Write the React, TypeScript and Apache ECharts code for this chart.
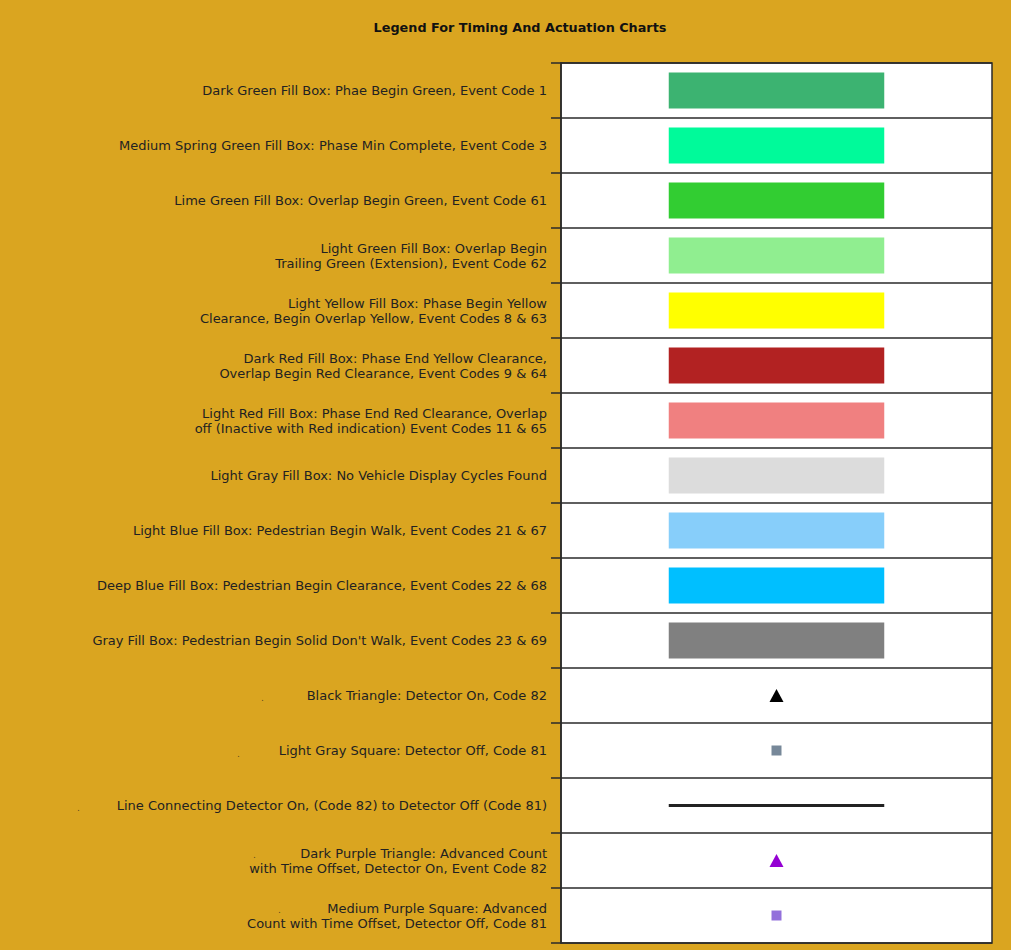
import React, { useEffect, useRef } from "react";
import * as echarts from "echarts";

const titleText = "Legend For Timing And Actuation Charts";

const legendLabels = [
  "Dark Green Fill Box: Phae Begin Green, Event Code 1",
  "Medium Spring Green Fill Box: Phase Min Complete, Event Code 3",
  "Lime Green Fill Box: Overlap Begin Green, Event Code 61",
  "Light Green Fill Box: Overlap Begin\nTrailing Green (Extension), Event Code 62",
  "Light Yellow Fill Box: Phase Begin Yellow\nClearance, Begin Overlap Yellow, Event Codes 8 & 63",
  "Dark Red Fill Box: Phase End Yellow Clearance,\nOverlap Begin Red Clearance, Event Codes 9 & 64",
  "Light Red Fill Box: Phase End Red Clearance, Overlap\noff (Inactive with Red indication) Event Codes 11 & 65",
  "Light Gray Fill Box: No Vehicle Display Cycles Found",
  "Light Blue Fill Box: Pedestrian Begin Walk, Event Codes 21 & 67",
  "Deep Blue Fill Box: Pedestrian Begin Clearance, Event Codes 22 & 68",
  "Gray Fill Box: Pedestrian Begin Solid Don't Walk, Event Codes 23 & 69",
  "Black Triangle: Detector On, Code 82",
  "Light Gray Square: Detector Off, Code 81",
  "Line Connecting Detector On, (Code 82) to Detector Off (Code 81)",
  "Dark Purple Triangle: Advanced Count\nwith Time Offset, Detector On, Event Code 82",
  "Medium Purple Square: Advanced\nCount with Time Offset, Detector Off, Code 81",
];

// fill boxes (rows 0..10)
const fillColors = [
  "#3CB371", "#00FA9A", "#32CD32", "#90EE90", "#FFFF00", "#B22222",
  "#F08080", "#DCDCDC", "#87CEFA", "#00BFFF", "#808080",
];
const fillStart = [1, 1, 1, 1, 1, 1, 1, 1, 1, 1, 1];
const fillEnd = [3, 3, 3, 3, 3, 3, 3, 3, 3, 3, 3];

// markers
const markerRows = [11, 12, 14, 15];
const markerX = [2, 2, 2, 2];
const markerSymbols = ["triangle", "rect", "triangle", "rect"];
const markerColors = ["#000000", "#778899", "#9400D3", "#9370DB"];
const markerSizes = [[14, 13], [10, 10], [14, 13], [10, 10]];

// connecting line
const lineRow = 13;
const lineX = [1, 3];

// stray dots in the reference (row, x, offset from row centre)
const dotRows = [11, 12, 13, 14, 15];
const dotX = [261, 237, 77, 253, 278];
const dotDy = [2, 3, 2, -6, -6];

export default function App() {
  const ref = useRef<HTMLDivElement>(null);
  useEffect(() => {
    document.body.style.margin = "0";
    const chart = echarts.init(ref.current!, null, { renderer: "svg" });
    const n = legendLabels.length;
    const gridTop = 63;
    const gridBottom = 7;
    const rowH = (950 - gridTop - gridBottom) / n;

    const baseData = legendLabels.map((_, i) => (i < fillColors.length ? fillStart[i] : "-"));
    const fillData = legendLabels.map((_, i) =>
      i < fillColors.length
        ? { value: fillEnd[i] - fillStart[i], itemStyle: { color: fillColors[i] } }
        : "-"
    );
    const markerData = markerRows.map((r, k) => ({
      value: [markerX[k], legendLabels[r]],
      symbol: markerSymbols[k],
      symbolSize: markerSizes[k],
      itemStyle: { color: markerColors[k], opacity: 1 },
    }));

    chart.setOption({
      animation: false,
      backgroundColor: "#DAA520",
      title: {
        text: titleText,
        left: 515,
        top: 16,
        textAlign: "center",
        textStyle: {
          fontFamily: "DejaVu Sans",
          fontSize: 12.8,
          fontWeight: "bold",
          color: "#111",
        },
      },
      grid: {
        left: 561,
        right: 19,
        top: gridTop,
        bottom: gridBottom,
        show: true,
        backgroundColor: "#ffffff",
        borderColor: "#2a2a2a",
        borderWidth: 1.5,
      },
      xAxis: {
        type: "value",
        min: 0,
        max: 4,
        show: false,
      },
      yAxis: {
        type: "category",
        inverse: true,
        data: legendLabels,
        axisLine: { show: true, lineStyle: { color: "#2a2a2a", width: 1.5 } },
        axisTick: { show: true, length: 10, lineStyle: { color: "#2a2a2a", width: 1.5 } },
        splitLine: { show: true, lineStyle: { color: "#2a2a2a", width: 1.5 } },
        axisLabel: {
          margin: 14,
          fontFamily: "DejaVu Sans",
          fontSize: 13,
          lineHeight: 15,
          color: "#222",
          align: "right",
        },
      },
      series: [
        {
          type: "bar",
          stack: "fill",
          data: baseData,
          barWidth: 36,
          itemStyle: { color: "transparent" },
          silent: true,
        },
        {
          type: "bar",
          stack: "fill",
          data: fillData,
          barWidth: 36,
        },
        {
          type: "scatter",
          data: markerData,
        },
        {
          type: "line",
          data: lineX.map((x) => [x, legendLabels[lineRow]]),
          symbol: "none",
          lineStyle: { color: "#222", width: 3 },
        },
      ],
      graphic: dotRows.map((r, k) => ({
        type: "text",
        x: dotX[k],
        y: gridTop + rowH * (r + 0.5) + dotDy[k],
        style: {
          text: ".",
          fontSize: 9,
          fill: "#5a4a20",
          fontFamily: "DejaVu Sans",
          verticalAlign: "middle",
        },
      })),
    });
    return () => chart.dispose();
  }, []);
  return <div ref={ref} style={{ width: 1011, height: 950 }} />;
}
